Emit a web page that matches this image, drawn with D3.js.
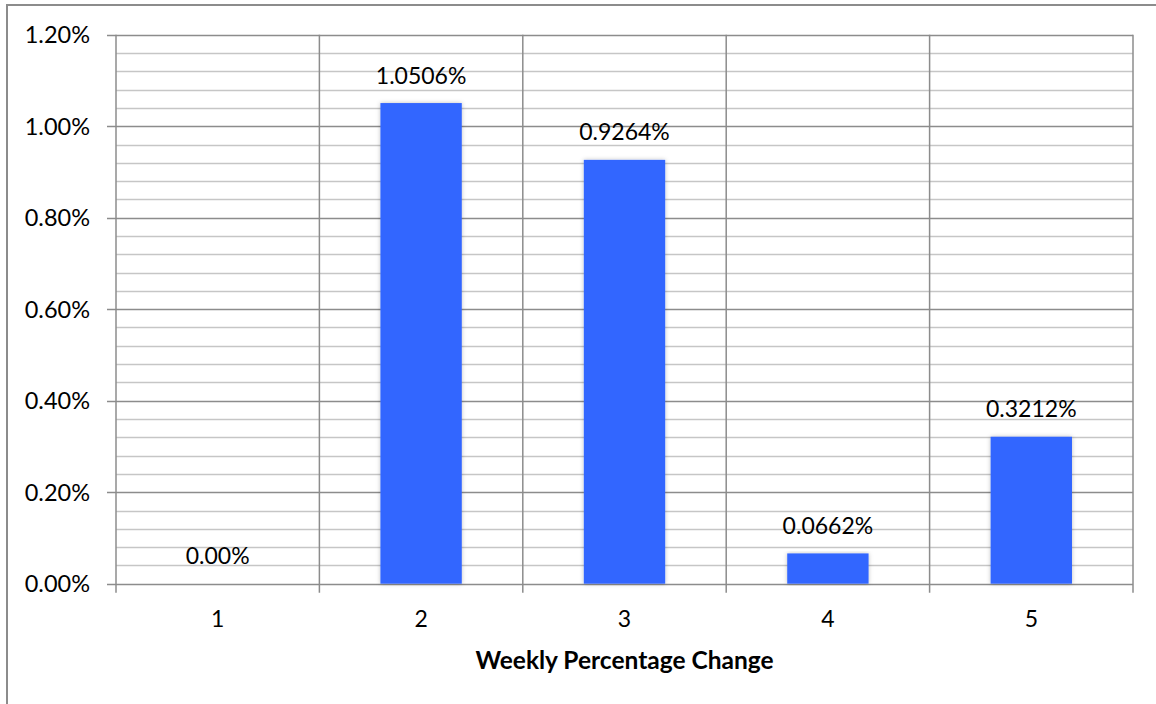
<!DOCTYPE html>
<html><head><meta charset="utf-8">
<script src="https://cdn.jsdelivr.net/npm/d3@7"></script>
<style>
html,body{margin:0;padding:0;background:#fff;}
text{font-family:Lato,"Open Sans",sans-serif;fill:#000;}
</style></head>
<body>
<svg id="chart" width="1156" height="704"></svg>
<script>
const categories = ["1","2","3","4","5"];
const values = [0, 1.0506, 0.9264, 0.0662, 0.3212];
const valueLabels = ["0.00%","1.0506%","0.9264%","0.0662%","0.3212%"];
const yTicks = [0, 0.2, 0.4, 0.6, 0.8, 1.0, 1.2];
const xTitle = "Weekly Percentage Change";

const svg = d3.select("#chart");
const pLeft = 116, pRight = 1133, pTop = 34.7, pBottom = 583.7;

const defs = svg.append("defs");
const f = defs.append("filter").attr("id","sh").attr("x","-20%").attr("y","-5%").attr("width","140%").attr("height","110%");
f.append("feDropShadow").attr("dx",0).attr("dy",0).attr("stdDeviation",2).attr("flood-color","#000").attr("flood-opacity",0.25);

// outer border (left + top)
svg.append("path").attr("d","M7,704 V5 H1156").attr("fill","none").attr("stroke","#8c8c8c").attr("stroke-width",2);

const x = d3.scaleBand().domain(categories).range([pLeft,pRight]).paddingInner(0).paddingOuter(0);
const y = d3.scaleLinear().domain([0,1.2]).range([pBottom,pTop]);

// minor gridlines
const minor = d3.range(0, 1.2001, 0.04).filter(v => Math.abs(Math.round(v*5) - v*5) > 1e-6);
svg.append("g").selectAll("line").data(minor).join("line")
  .attr("x1",pLeft).attr("x2",pRight)
  .attr("y1",d=>Math.round(y(d))+0.5).attr("y2",d=>Math.round(y(d))+0.5)
  .attr("stroke","#c6c6c6").attr("stroke-width",1.5);

// major gridlines
svg.append("g").selectAll("line").data(yTicks).join("line")
  .attr("x1",pLeft-9).attr("x2",pRight)
  .attr("y1",d=>Math.round(y(d))+0.5).attr("y2",d=>Math.round(y(d))+0.5)
  .attr("stroke","#8c8c8c").attr("stroke-width",1.5);

// vertical category lines
const bounds = categories.map(c => x(c)).concat([pRight]);
svg.append("g").selectAll("line").data(bounds).join("line")
  .attr("x1",d=>d).attr("x2",d=>d)
  .attr("y1",pTop).attr("y2",pBottom+9)
  .attr("stroke","#8c8c8c").attr("stroke-width",1.5);

// bars
const bw = x.bandwidth()*0.4;
svg.append("g").selectAll("rect").data(values).join("rect")
  .attr("x",(d,i)=>x(categories[i]) + x.bandwidth()/2 - bw/2)
  .attr("width",bw)
  .attr("y",d=>y(d)).attr("height",d=>y(0)-y(d))
  .attr("fill","#3366ff").attr("filter","url(#sh)");

// y tick labels
const fmt = d3.format(".2f");
svg.append("g").selectAll("text").data(yTicks).join("text")
  .attr("x",90).attr("y",d=>y(d)).attr("dy","0.36em")
  .attr("text-anchor","end").attr("font-size",23.5)
  .text(d=>fmt(d)+"%");

// x tick labels
svg.append("g").selectAll("text").data(categories).join("text")
  .attr("x",d=>x(d)+x.bandwidth()/2).attr("y",627)
  .attr("text-anchor","middle").attr("font-size",23)
  .text(d=>d);

// value labels
svg.append("g").selectAll("text").data(values).join("text")
  .attr("x",(d,i)=>x(categories[i])+x.bandwidth()/2).attr("y",d=>y(d)-19.5)
  .attr("text-anchor","middle").attr("font-size",23)
  .text((d,i)=>valueLabels[i]);

// axis title
svg.append("text").attr("x",(pLeft+pRight)/2).attr("y",669)
  .attr("text-anchor","middle").attr("font-size",24.5).attr("font-weight","bold")
  .text(xTitle);
</script>
</body></html>
